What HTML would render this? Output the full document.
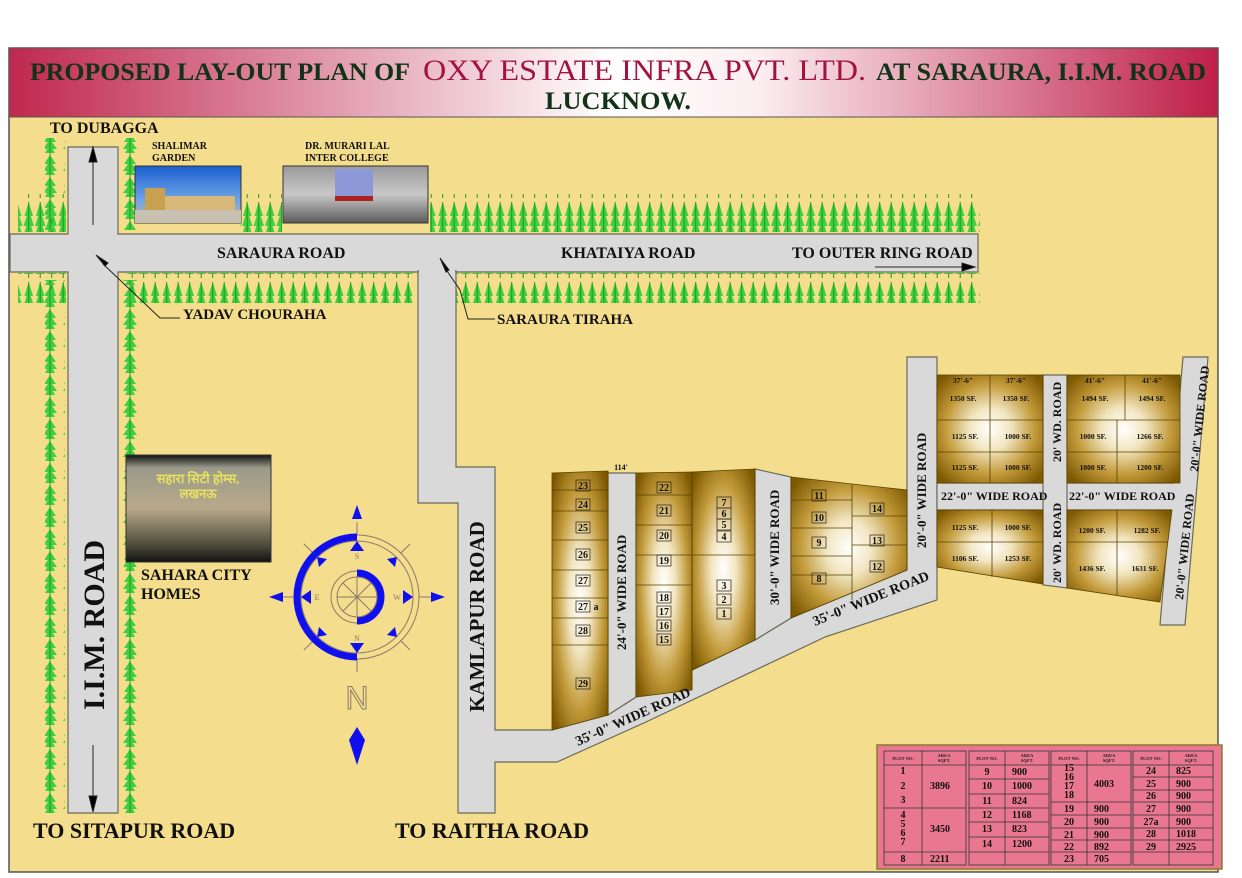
<!DOCTYPE html>
<html><head><meta charset="utf-8"><style>
html,body{margin:0;padding:0;background:#fff;}
svg{display:block;}
text{font-family:"Liberation Serif",serif;font-weight:bold;}
</style></head><body>
<svg width="1242" height="878" viewBox="0 0 1242 878" xmlns="http://www.w3.org/2000/svg">
<defs>
<linearGradient id="hdr" x1="0" x2="1" y1="0" y2="0">
<stop offset="0" stop-color="#c0284e"/><stop offset="0.5" stop-color="#ffffff"/><stop offset="0.62" stop-color="#fbeef1"/><stop offset="1" stop-color="#bf1f48"/>
</linearGradient>
<radialGradient id="plot" cx="0.5" cy="0.5" r="0.65">
<stop offset="0" stop-color="#ffffff"/><stop offset="0.3" stop-color="#f2e6c2"/><stop offset="0.65" stop-color="#c29a3a"/><stop offset="1" stop-color="#7d5800"/>
</radialGradient>
<pattern id="treeH" width="11.5" height="40" patternUnits="userSpaceOnUse">
<path d="M5.7 2 L1.5 16 L10 16 Z M5.7 10 L0.5 26 L11 26 Z M5.7 18 L1 34 L10.5 34 Z" fill="#3fcf3f"/>
<line x1="5.7" y1="2" x2="5.7" y2="38" stroke="#1c9a1c" stroke-width="1"/>
</pattern>
<pattern id="treeV" width="20" height="22" patternUnits="userSpaceOnUse">
<path d="M10 1 L4 10 L16 10 Z M10 7 L3 17 L17 17 Z M10 12 L5 21 L15 21 Z" fill="#3fcf3f"/>
<line x1="10" y1="0" x2="10" y2="22" stroke="#1c9a1c" stroke-width="1"/>
</pattern>
<linearGradient id="sky" x1="0" y1="0" x2="0" y2="1"><stop offset="0" stop-color="#1b5fcf"/><stop offset="0.6" stop-color="#6fa6e8"/><stop offset="1" stop-color="#cbb58a"/></linearGradient>
<linearGradient id="col" x1="0" y1="0" x2="0" y2="1"><stop offset="0" stop-color="#9a9a9a"/><stop offset="0.5" stop-color="#c8c8c8"/><stop offset="1" stop-color="#5a5a5a"/></linearGradient>
<linearGradient id="sah" x1="0" y1="0" x2="0" y2="1"><stop offset="0" stop-color="#111"/><stop offset="0.12" stop-color="#9a9a8a"/><stop offset="0.5" stop-color="#b8a98a"/><stop offset="0.85" stop-color="#4a4a3a"/><stop offset="1" stop-color="#111"/></linearGradient>
</defs>

<rect x="9" y="48" width="1209" height="824" fill="#f4dd8c" stroke="#555" stroke-width="1.5"/>
<rect x="9" y="48" width="1209" height="69" fill="url(#hdr)" stroke="#555" stroke-width="1"/>
<text x="30" y="80" font-size="25" fill="#123318" textLength="380" lengthAdjust="spacingAndGlyphs">PROPOSED LAY-OUT PLAN OF</text>
<text x="423" y="80" font-size="30" fill="#a3133f" style="font-weight:normal" textLength="443" lengthAdjust="spacingAndGlyphs">OXY ESTATE INFRA PVT. LTD.</text>
<text x="876" y="80" font-size="25" fill="#123318" textLength="330" lengthAdjust="spacingAndGlyphs">AT SARAURA, I.I.M. ROAD</text>
<text x="545" y="109" font-size="25" fill="#123318" textLength="146" lengthAdjust="spacingAndGlyphs">LUCKNOW.</text>

<rect x="18" y="194" width="48" height="38" fill="url(#treeH)"/>
<rect x="240" y="194" width="42" height="38" fill="url(#treeH)"/>
<rect x="430" y="194" width="550" height="38" fill="url(#treeH)"/>
<rect x="18" y="273" width="48" height="30" fill="url(#treeH)"/>
<rect x="125" y="273" width="288" height="30" fill="url(#treeH)"/>
<rect x="456" y="273" width="524" height="30" fill="url(#treeH)"/>
<rect x="45" y="138" width="20" height="92" fill="url(#treeV)"/>
<rect x="118" y="138" width="20" height="92" fill="url(#treeV)"/>
<rect x="45" y="280" width="20" height="533" fill="url(#treeV)"/>
<rect x="118" y="280" width="20" height="533" fill="url(#treeV)"/>

<g fill="#d9d9d9" stroke="#6a6a5a" stroke-width="1.2">
<path d="M68 147 L118 147 L118 234 L978 234 L978 272 L118 272 L118 813 L68 813 L68 272 L10 272 L10 234 L68 234 Z"/>
<path d="M418 271 L456 271 L456 467 L495 467 L495 730 L552 730 L608 715 L636 697 L755 640 L791 618 L907 570 L907 357 L937 357 L937 600 L825 637 L646 722 L557 762 L495 762 L495 813 L458 813 L458 503 L418 503 Z"/>
<path d="M608 473 L636 473 L636 697 L608 715 Z"/>
<path d="M755 469 L791 477 L791 618 L755 640 Z"/>
<path d="M937 483 L1180 483 L1183 510 L937 510 Z"/>
<path d="M1043 375 L1067 375 L1067 588 L1043 585 Z"/>
<path d="M1183 357 L1208 357 L1185 625 L1160 625 Z"/>
</g>
<rect x="69" y="235" width="48" height="36" fill="#d9d9d9"/>
<rect x="419" y="235" width="36" height="38" fill="#d9d9d9"/>
<rect x="938" y="484" width="104" height="25" fill="#d9d9d9"/>
<rect x="1044" y="484" width="22" height="25" fill="#d9d9d9"/>
<rect x="1068" y="484" width="110" height="25" fill="#d9d9d9"/>

<g stroke="#222" stroke-width="1">
<line x1="93" y1="225" x2="93" y2="158"/><path d="M93 147 L89 162 L97 162 Z" fill="#000"/>
<line x1="93" y1="745" x2="93" y2="800"/><path d="M93 812 L89 796 L97 796 Z" fill="#000"/>
<line x1="875" y1="267" x2="965" y2="267"/><path d="M975 267 L962 263 L962 271 Z" fill="#000"/>
<path d="M96 255 L108 263 L105 266 Z" fill="#000"/><polyline points="103,264 160,318 180,318" fill="none"/>
<path d="M440 258 L449 270 L446 272 Z" fill="#000"/><polyline points="447,271 460,290 468,319 495,319" fill="none"/>
</g>

<rect x="135" y="166" width="106" height="57" fill="url(#sky)" stroke="#333"/>
<rect x="145" y="188" width="20" height="22" fill="#c8a050"/><rect x="165" y="196" width="70" height="14" fill="#d8b878"/>
<rect x="135" y="210" width="106" height="13" fill="#c8c0b0"/>
<rect x="283" y="166" width="145" height="57" fill="url(#col)" stroke="#333"/>
<rect x="335" y="169" width="38" height="28" fill="#8c98d8"/><rect x="335" y="196" width="38" height="5" fill="#b02020"/>
<rect x="126" y="455" width="145" height="107" fill="url(#sah)" stroke="#333"/>
<text x="198" y="483" font-size="13" fill="#e8e060" text-anchor="middle" font-family="'Noto Sans CJK SC',sans-serif">सहारा सिटी होम्स,</text>
<text x="198" y="498" font-size="13" fill="#e8e060" text-anchor="middle" font-family="'Noto Sans CJK SC',sans-serif">लखनऊ</text>

<text x="50" y="133" font-size="16" fill="#111">TO DUBAGGA</text>
<text x="152" y="149" font-size="10" fill="#111">SHALIMAR</text>
<text x="152" y="161" font-size="10" fill="#111">GARDEN</text>
<text x="305" y="149" font-size="10" fill="#111">DR. MURARI LAL</text>
<text x="305" y="161" font-size="10" fill="#111">INTER COLLEGE</text>
<text x="217" y="258" font-size="16" fill="#111">SARAURA ROAD</text>
<text x="561" y="258" font-size="16" fill="#111">KHATAIYA ROAD</text>
<text x="792" y="258" font-size="16" fill="#111">TO OUTER RING ROAD</text>
<text x="183" y="319" font-size="15" fill="#111">YADAV CHOURAHA</text>
<text x="497" y="324" font-size="15" fill="#111">SARAURA TIRAHA</text>
<text x="141" y="580" font-size="16" fill="#111">SAHARA CITY</text>
<text x="141" y="599" font-size="16" fill="#111">HOMES</text>
<text transform="translate(104,710) rotate(-90)" font-size="30" fill="#111">I.I.M. ROAD</text>
<text transform="translate(484,712) rotate(-90)" font-size="21" fill="#111">KAMLAPUR ROAD</text>
<text x="33" y="838" font-size="22" fill="#111">TO SITAPUR ROAD</text>
<text x="395" y="838" font-size="22" fill="#111">TO RAITHA ROAD</text>

<g transform="translate(357,597)" stroke="#8a7a6a" fill="none" stroke-width="1">
<circle r="62"/><circle r="56"/><circle r="26"/><circle r="20"/>
<line x1="-20" y1="0" x2="20" y2="0"/><line x1="0" y1="-20" x2="0" y2="20"/>
<line x1="-14" y1="-14" x2="14" y2="14"/><line x1="14" y1="-14" x2="-14" y2="14"/>
<line x1="-53" y1="-53" x2="-44" y2="-44"/><line x1="53" y1="-53" x2="44" y2="-44"/><line x1="-53" y1="53" x2="-44" y2="44"/><line x1="53" y1="53" x2="44" y2="44"/>
<line x1="62" y1="0" x2="75" y2="0"/><line x1="-62" y1="0" x2="-75" y2="0"/><line x1="0" y1="-62" x2="0" y2="-75"/><line x1="0" y1="62" x2="0" y2="75"/>
<path d="M0 -60 A60 60 0 0 0 0 60" stroke="#1010ee" stroke-width="7"/>
<path d="M0 -24 A24 24 0 0 1 0 24" stroke="#1010ee" stroke-width="7"/>
<g fill="#1010ee" stroke="none">
<path d="M0 -92 L-5 -78 L5 -78 Z"/><path d="M-88 0 L-74 -5 L-74 5 Z"/><path d="M88 0 L74 -5 L74 5 Z"/>
<path d="M0 -56 L-7 -46 L7 -46 Z"/><path d="M0 56 L-7 46 L7 46 Z"/><path d="M-56 0 L-46 -7 L-46 7 Z"/><path d="M56 0 L46 -7 L46 7 Z"/>
<path d="M-40 -40 L-30 -38 L-38 -30 Z"/><path d="M40 -40 L30 -38 L38 -30 Z"/><path d="M-40 40 L-30 38 L-38 30 Z"/><path d="M40 40 L30 38 L38 30 Z"/>
<path d="M0 130 L-8 143 L0 168 L8 143 Z"/>
</g>
<g fill="#8a7a6a" stroke="none" font-size="8" text-anchor="middle">
<text x="0" y="-38" style="font-weight:normal">S</text><text x="0" y="44" style="font-weight:normal">N</text><text x="-40" y="3" style="font-weight:normal">E</text><text x="40" y="3" style="font-weight:normal">W</text>
</g>
<text x="0" y="112" font-size="32" text-anchor="middle" fill="none" stroke="#8a7a6a" style="font-family:'Liberation Sans',sans-serif;font-weight:normal">N</text>
</g>

<g fill="url(#plot)" stroke="#5a4400" stroke-width="0.8">
<path d="M552 473 L608 471 L608 715 L552 730 Z"/>
<path d="M636 473 L692 472 L692 690 L636 697 Z"/>
<path d="M692 472 L755 469 L755 640 L692 670 Z"/>
<path d="M791 477 L852 484 L907 490 L907 570 L791 618 Z"/>
<rect x="937" y="375" width="106" height="108"/>
<rect x="1067" y="375" width="113" height="108"/>
<path d="M937 510 L1043 510 L1043 584 L937 567 Z"/>
<path d="M1067 510 L1172 510 L1160 602 L1067 588 Z"/>
</g>
<g stroke="#5a4400" stroke-width="0.8" fill="none">
<path d="M552 490 H608 M552 511 H608 M552 540 H608 M552 570 H608 M552 598 H608 M552 618 H608 M552 645 H608"/>
<path d="M636 495 H692 M636 525 H692 M636 555 H692 M636 585 H692 M692 555 H755 M692 473 V690"/>
<path d="M791 500 H852 M791 528 H852 M791 556 H852 M791 575 H852 M852 484 V600 M852 516 H907 M852 545 H907"/>
<path d="M990 375 V483 M937 420 H1043 M937 452 H1043 M1125 375 V420 M1117 420 V483 M1067 420 H1180 M1067 452 H1180"/>
<path d="M992 510 V577 M937 542 H1043 M1117 510 V595 M1067 542 H1168"/>
</g>
<g font-size="10" fill="#111" text-anchor="middle">
<g fill="none" stroke="#222" stroke-width="0.7">
<rect x="576" y="480" width="14" height="11"/><rect x="576" y="499" width="14" height="11"/><rect x="576" y="522" width="14" height="11"/><rect x="576" y="549" width="14" height="11"/><rect x="576" y="575" width="14" height="11"/><rect x="576" y="601" width="14" height="11"/><rect x="576" y="625" width="14" height="11"/><rect x="576" y="678" width="14" height="11"/>
<rect x="657" y="482" width="14" height="11"/><rect x="657" y="505" width="14" height="11"/><rect x="657" y="530" width="14" height="11"/><rect x="657" y="555" width="14" height="11"/><rect x="657" y="592" width="14" height="11"/><rect x="657" y="606" width="14" height="11"/><rect x="657" y="620" width="14" height="11"/><rect x="657" y="634" width="14" height="11"/>
<rect x="717" y="497" width="14" height="11"/><rect x="717" y="508" width="14" height="11"/><rect x="717" y="519" width="14" height="11"/><rect x="717" y="531" width="14" height="11"/><rect x="717" y="580" width="14" height="11"/><rect x="717" y="594" width="14" height="11"/><rect x="717" y="608" width="14" height="11"/>
<rect x="812" y="490" width="14" height="11"/><rect x="812" y="512" width="14" height="11"/><rect x="812" y="537" width="14" height="11"/><rect x="812" y="573" width="14" height="11"/><rect x="870" y="503" width="14" height="11"/><rect x="870" y="535" width="14" height="11"/><rect x="870" y="561" width="14" height="11"/>
</g>
<text x="583" y="489">23</text><text x="583" y="508">24</text><text x="583" y="531">25</text><text x="583" y="558">26</text><text x="583" y="584">27</text><text x="583" y="610">27</text><text x="596" y="610">a</text><text x="583" y="634">28</text><text x="583" y="687">29</text>
<text x="664" y="491">22</text><text x="664" y="514">21</text><text x="664" y="539">20</text><text x="664" y="564">19</text><text x="664" y="601">18</text><text x="664" y="615">17</text><text x="664" y="629">16</text><text x="664" y="643">15</text>
<text x="724" y="506">7</text><text x="724" y="517">6</text><text x="724" y="528">5</text><text x="724" y="540">4</text><text x="724" y="589">3</text><text x="724" y="603">2</text><text x="724" y="617">1</text>
<text x="819" y="499">11</text><text x="819" y="521">10</text><text x="819" y="546">9</text><text x="819" y="582">8</text><text x="877" y="512">14</text><text x="877" y="544">13</text><text x="877" y="570">12</text>
<text x="621" y="470" font-size="8">114'</text>
</g>
<g font-size="7.5" fill="#111" text-anchor="middle">
<text x="963" y="383">37'-6"</text><text x="1016" y="383">37'-6"</text><text x="1095" y="383">41'-6"</text><text x="1152" y="383">41'-6"</text>
<text x="963" y="401">1350 SF.</text><text x="1016" y="401">1350 SF.</text><text x="1095" y="401">1494 SF.</text><text x="1152" y="401">1494 SF.</text>
<text x="965" y="439">1125 SF.</text><text x="1018" y="439">1000 SF.</text><text x="1093" y="439">1000 SF.</text><text x="1150" y="439">1266 SF.</text>
<text x="965" y="470">1125 SF.</text><text x="1018" y="470">1000 SF.</text><text x="1093" y="470">1000 SF.</text><text x="1150" y="470">1200 SF.</text>
<text x="965" y="530">1125 SF.</text><text x="1018" y="530">1000 SF.</text><text x="1092" y="533">1200 SF.</text><text x="1147" y="533">1282 SF.</text>
<text x="965" y="561">1106 SF.</text><text x="1018" y="561">1253 SF.</text><text x="1092" y="571">1436 SF.</text><text x="1145" y="571">1631 SF.</text>
</g>
<g fill="#111">
<text transform="translate(626,650) rotate(-90)" font-size="13">24'-0"  WIDE ROAD</text>
<text transform="translate(779,605) rotate(-90)" font-size="13">30'-0"  WIDE ROAD</text>
<text transform="translate(926,548) rotate(-90)" font-size="13">20'-0"  WIDE ROAD</text>
<text transform="translate(1061,462) rotate(-90)" font-size="12">20' WD. ROAD</text>
<text transform="translate(1061,583) rotate(-90)" font-size="12">20' WD. ROAD</text>
<text transform="translate(1198,472) rotate(-84)" font-size="12">20'-0"  WIDE ROAD</text>
<text transform="translate(1183,600) rotate(-84)" font-size="12">20'-0"  WIDE ROAD</text>
<text x="941" y="500" font-size="12">22'-0"  WIDE ROAD</text>
<text x="1069" y="500" font-size="12">22'-0"  WIDE ROAD</text>
<text transform="translate(578,746) rotate(-24)" font-size="14">35'-0"  WIDE ROAD</text>
<text transform="translate(815,626) rotate(-22)" font-size="14">35'-0"  WIDE ROAD</text>
</g>

<rect x="877" y="745" width="345" height="124" fill="#e9778f" stroke="#8a7a30" stroke-width="1.5"/>
<g fill="none" stroke="#333" stroke-width="0.8">
<rect x="884" y="751" width="82" height="114"/><line x1="922" y1="751" x2="922" y2="865"/><line x1="884" y1="765" x2="966" y2="765"/><line x1="884" y1="808" x2="966" y2="808"/><line x1="884" y1="852" x2="966" y2="852"/>
<rect x="969" y="751" width="80" height="114"/><line x1="1005" y1="751" x2="1005" y2="865"/><path d="M969 765 H1049 M969 779 H1049 M969 794 H1049 M969 808 H1049 M969 822 H1049 M969 837 H1049 M969 852 H1049"/>
<rect x="1051" y="751" width="80" height="114"/><line x1="1087" y1="751" x2="1087" y2="865"/><path d="M1051 765 H1131 M1051 802 H1131 M1051 815 H1131 M1051 828 H1131 M1051 840 H1131 M1051 852 H1131"/>
<rect x="1133" y="751" width="80" height="114"/><line x1="1169" y1="751" x2="1169" y2="865"/><path d="M1133 765 H1213 M1133 777 H1213 M1133 790 H1213 M1133 802 H1213 M1133 815 H1213 M1133 828 H1213 M1133 840 H1213 M1133 852 H1213"/>
</g>
<g font-size="4.5" fill="#222" text-anchor="middle">
<text x="903" y="760">PLOT NO.</text><text x="944" y="757">AREA</text><text x="944" y="762">SQFT.</text>
<text x="987" y="760">PLOT NO.</text><text x="1027" y="757">AREA</text><text x="1027" y="762">SQFT.</text>
<text x="1069" y="760">PLOT NO.</text><text x="1109" y="757">AREA</text><text x="1109" y="762">SQFT.</text>
<text x="1151" y="760">PLOT NO.</text><text x="1191" y="757">AREA</text><text x="1191" y="762">SQFT.</text>
</g>
<g font-size="10" fill="#111">
<g text-anchor="middle">
<text x="903" y="774">1</text><text x="903" y="789">2</text><text x="903" y="803">3</text><text x="903" y="818">4</text><text x="903" y="827">5</text><text x="903" y="836">6</text><text x="903" y="845">7</text><text x="903" y="862">8</text>
<text x="987" y="775">9</text><text x="987" y="789">10</text><text x="987" y="804">11</text><text x="987" y="818">12</text><text x="987" y="832">13</text><text x="987" y="847">14</text>
<text x="1069" y="771">15</text><text x="1069" y="780">16</text><text x="1069" y="789">17</text><text x="1069" y="798">18</text><text x="1069" y="812">19</text><text x="1069" y="825">20</text><text x="1069" y="838">21</text><text x="1069" y="850">22</text><text x="1069" y="862">23</text>
<text x="1151" y="774">24</text><text x="1151" y="787">25</text><text x="1151" y="799">26</text><text x="1151" y="812">27</text><text x="1151" y="825">27a</text><text x="1151" y="837">28</text><text x="1151" y="850">29</text>
</g>
<text x="930" y="789">3896</text><text x="930" y="832">3450</text><text x="930" y="862">2211</text>
<text x="1012" y="775">900</text><text x="1012" y="789">1000</text><text x="1012" y="804">824</text><text x="1012" y="818">1168</text><text x="1012" y="832">823</text><text x="1012" y="847">1200</text>
<text x="1094" y="787">4003</text><text x="1094" y="812">900</text><text x="1094" y="825">900</text><text x="1094" y="838">900</text><text x="1094" y="850">892</text><text x="1094" y="862">705</text>
<text x="1176" y="774">825</text><text x="1176" y="787">900</text><text x="1176" y="799">900</text><text x="1176" y="812">900</text><text x="1176" y="825">900</text><text x="1176" y="837">1018</text><text x="1176" y="850">2925</text>
</g>
</svg>
</body></html>
